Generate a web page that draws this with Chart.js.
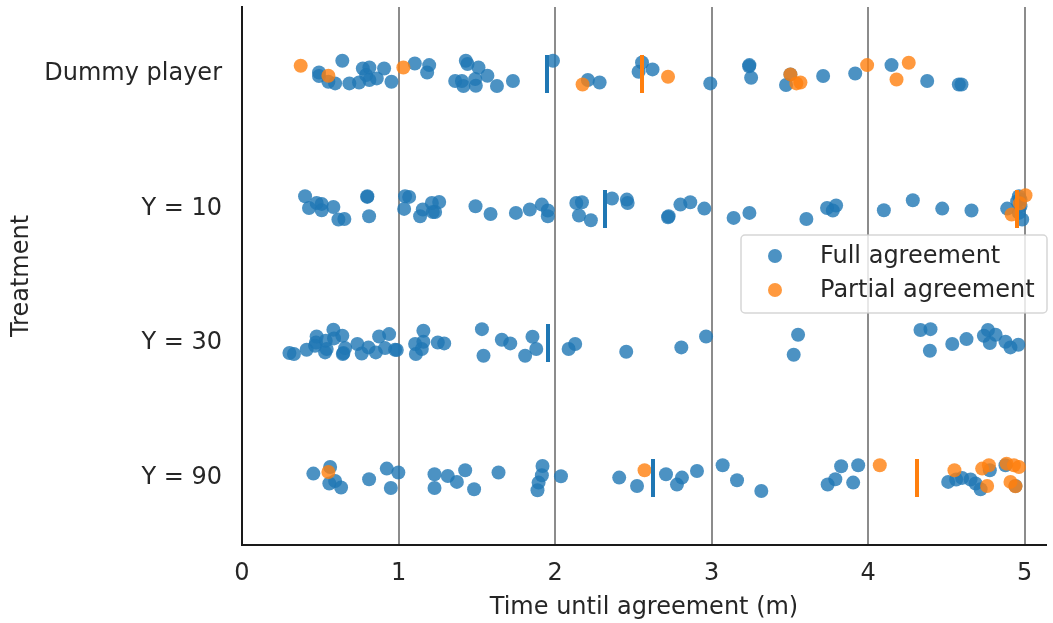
<!DOCTYPE html>
<html>
<head>
<meta charset="utf-8">
<script src="https://cdn.jsdelivr.net/npm/chart.js@4"></script>
<style>
  body { margin: 0; background: #fff; }
  canvas { display: block; }
</style>
</head>
<body>
<canvas id="chart" width="1053" height="623"></canvas>
<script>
// --- DATA ---
const treatments = ['Dummy player', 'Y = 10', 'Y = 30', 'Y = 90'];
const seriesNames = ['Full agreement', 'Partial agreement'];
const xTicks = [0, 1, 2, 3, 4, 5];

// [time (m), vertical jitter] per point
const dummyFull = [[0.641,-0.10],[0.492,-0.013],[0.492,0.013],[0.552,0.056],[0.595,0.068],[0.686,0.068],[0.748,0.061],[0.772,-0.043],[0.814,-0.05],[0.793,0.006],[0.814,0.043],[0.861,0.031],[0.908,-0.043],[0.955,0.056],[1.104,-0.08],[1.196,-0.068],[1.183,-0.013],[1.430,-0.1],[1.441,-0.076],[1.511,-0.05],[1.568,0.011],[1.490,0.036],[1.362,0.05],[1.405,0.05],[1.415,0.087],[1.494,0.085],[1.629,0.087],[1.731,0.05],[1.987,-0.1],[2.210,0.043],[2.285,0.061],[2.556,-0.087],[2.534,-0.019],[2.623,-0.036],[2.992,0.068],[3.242,-0.068],[3.24,-0.06],[3.253,0.026],[3.504,0.001],[3.476,0.08],[3.713,0.013],[3.918,-0.006],[4.150,-0.068],[4.378,0.05],[4.580,0.076],[4.597,0.076]];
const dummyPartial = [[0.375,-0.063],[0.552,0.011],[1.031,-0.05],[2.176,0.076],[2.722,0.019],[3.504,0.001],[3.542,0.068],[3.568,0.061],[3.994,-0.068],[4.260,-0.085],[4.182,0.039]];

const y10Full = [[0.403,-0.093],[0.428,-0.006],[0.477,-0.043],[0.509,-0.036],[0.509,0.011],[0.584,-0.013],[0.616,0.08],[0.654,0.076],[0.801,-0.093],[0.80,-0.088],[0.812,0.056],[1.042,-0.093],[1.068,-0.088],[1.036,0.001],[1.155,0.006],[1.138,0.056],[1.213,-0.043],[1.260,-0.05],[1.219,0.024],[1.234,0.024],[1.492,-0.019],[1.588,0.039],[1.750,0.031],[1.839,0.006],[1.916,-0.031],[1.954,0.013],[1.954,0.056],[2.136,-0.043],[2.172,-0.048],[2.153,0.05],[2.229,0.085],[2.364,-0.076],[2.459,-0.068],[2.464,-0.043],[2.726,0.056],[2.722,0.063],[2.801,-0.031],[2.864,-0.048],[2.954,-0.001],[3.141,0.068],[3.242,0.031],[3.606,0.076],[3.738,-0.006],[3.796,-0.024],[3.775,0.013],[4.101,0.011],[4.286,-0.063],[4.474,-0.001],[4.661,0.013],[4.889,-0.001],[4.964,-0.093],[4.974,-0.068],[4.953,-0.056],[4.974,-0.019],[4.964,0.031],[4.985,0.08]];
const y10Partial = [[5.006,-0.1],[4.917,0.043],[4.97,-0.04]];

const y30Full = [[0.303,0.073],[0.332,0.08],[0.413,0.048],[0.467,0.019],[0.477,-0.05],[0.473,-0.006],[0.535,-0.019],[0.541,0.043],[0.531,0.068],[0.584,-0.1],[0.588,-0.036],[0.641,-0.056],[0.659,0.036],[0.644,0.08],[0.648,0.073],[0.737,0.006],[0.765,0.076],[0.808,0.031],[0.855,0.068],[0.876,-0.05],[0.940,-0.068],[0.914,0.036],[0.978,0.048],[0.989,0.05],[1.159,-0.093],[1.159,-0.011],[1.106,0.006],[1.149,0.043],[1.111,0.08],[1.251,-0.006],[1.292,0.001],[1.533,-0.105],[1.543,0.093],[1.660,-0.026],[1.714,0.001],[1.856,-0.048],[1.880,0.043],[1.809,0.093],[2.087,0.043],[2.129,0.006],[2.455,0.063],[2.807,0.031],[2.965,-0.05],[3.553,-0.063],[3.525,0.085],[4.335,-0.098],[4.399,-0.105],[4.395,0.056],[4.538,0.006],[4.629,-0.031],[4.740,-0.056],[4.766,-0.098],[4.815,-0.063],[4.778,-0.001],[4.878,-0.011],[4.910,0.031],[4.960,0.011]];
const y30Partial = [];

const y90Full = [[0.456,-0.031],[0.563,-0.08],[0.558,0.043],[0.595,0.024],[0.633,0.073],[0.812,0.011],[0.925,-0.068],[0.951,0.076],[0.999,-0.039],[1.230,-0.026],[1.230,0.076],[1.315,-0.013],[1.373,0.031],[1.426,-0.056],[1.483,0.085],[1.639,-0.039],[1.920,-0.087],[1.916,-0.019],[1.895,0.036],[1.888,0.093],[2.038,-0.011],[2.410,-0.001],[2.524,0.061],[2.709,-0.026],[2.811,-0.001],[2.779,0.051],[2.907,-0.05],[3.071,-0.093],[3.163,0.019],[3.318,0.098],[3.742,0.05],[3.791,0.011],[3.828,-0.085],[3.937,-0.093],[3.905,0.036],[4.512,0.031],[4.563,0.013],[4.601,0.001],[4.655,0.013],[4.687,0.043],[4.719,0.085],[4.778,-0.056],[4.878,-0.093],[4.942,0.061]];
const y90Partial = [[0.552,-0.043],[2.572,-0.056],[4.075,-0.093],[4.552,-0.056],[4.761,0.061],[4.729,-0.068],[4.772,-0.093],[4.885,-0.105],[4.932,-0.093],[4.964,-0.08],[4.910,0.031],[4.942,0.063]];

// mean time per treatment
const fullMeans = [1.948, 2.321, 1.958, 2.624];
const partialMeans = [2.556, 4.953, null, 4.314];

// --- COLORS ---
const BLUE = '#1f77b4';
const ORANGE = '#ff7f0e';
const BLUE_A = 'rgba(31, 119, 180, 0.8)';
const ORANGE_A = 'rgba(255, 127, 14, 0.8)';
const TEXT = '#262626';
const FONT = { family: "'DejaVu Sans'", size: 24 };

const fullRows = [dummyFull, y10Full, y30Full, y90Full];
const partialRows = [dummyPartial, y10Partial, y30Partial, y90Partial];

const toPoints = rows => rows.flatMap((row, i) => row.map(([x, j]) => ({ x, y: i + j })));
const toMeans = means => means.map((x, i) => (x === null ? null : { x, y: i })).filter(p => p);

// vertical tick used as the marker for the means
function meanMarker(color) {
    const cv = document.createElement('canvas');
    cv.width = 4;
    cv.height = 38;
    const g = cv.getContext('2d');
    g.fillStyle = color;
    g.fillRect(0, 0, 4, 38);
    return cv;
}

// legend drawn inside the plot, like matplotlib
const legendBox = {
    id: 'legendBox',
    afterDraw(chart) {
        const c = chart.ctx;
        const x = 741, y = 235, w = 306, h = 78;
        c.save();
        c.beginPath();
        c.roundRect(x, y, w, h, 4);
        c.fillStyle = 'rgba(255,255,255,0.8)';
        c.fill();
        c.strokeStyle = 'rgba(204,204,204,0.8)';
        c.lineWidth = 1.5;
        c.stroke();
        [BLUE_A, ORANGE_A].forEach((col, i) => {
            const cy = 256 + i * 34;
            c.beginPath();
            c.arc(775, cy, 7, 0, Math.PI * 2);
            c.fillStyle = col;
            c.fill();
            c.fillStyle = TEXT;
            c.font = "24px 'DejaVu Sans'";
            c.textBaseline = 'middle';
            c.fillText(seriesNames[i], 820, cy + 1);
        });
        c.restore();
    }
};

new Chart(document.getElementById('chart'), {
    type: 'scatter',
    data: {
        datasets: [
            { label: seriesNames[0], data: toPoints(fullRows), backgroundColor: BLUE_A, borderWidth: 0, pointRadius: 7, pointHoverRadius: 0, order: 3 },
            { label: seriesNames[1], data: toPoints(partialRows), backgroundColor: ORANGE_A, borderWidth: 0, pointRadius: 7, pointHoverRadius: 0, order: 2 },
            { label: 'mean full', data: toMeans(fullMeans), pointStyle: meanMarker(BLUE), pointRadius: 1, pointHoverRadius: 0, borderWidth: 0, order: 1 },
            { label: 'mean partial', data: toMeans(partialMeans), pointStyle: meanMarker(ORANGE), pointRadius: 1, pointHoverRadius: 0, borderWidth: 0, order: 0 }
        ]
    },
    options: {
        responsive: false,
        animation: false,
        devicePixelRatio: 1,
        events: [],
        layout: { padding: { top: 5, right: 3, left: 0, bottom: 0 } },
        plugins: { legend: { display: false }, tooltip: { enabled: false } },
        scales: {
            x: {
                type: 'linear', min: 0, max: 5.137,
                afterFit: s => { s.height = 78; s.paddingLeft = 0; s.paddingRight = 0; },
                afterBuildTicks: s => { s.ticks = xTicks.map(v => ({ value: v })); },
                ticks: { font: FONT, color: TEXT, padding: 14, includeBounds: false },
                grid: { color: ctx => (ctx.tick.value === 0 ? 'rgba(0,0,0,0)' : '#8c8c8c'), lineWidth: 2, drawTicks: false },
                border: { color: '#1a1a1a', width: 2 },
                title: { display: true, text: 'Time until agreement (m)', font: FONT, color: TEXT, padding: { top: 0, bottom: 1 } }
            },
            y: {
                type: 'linear', min: -0.5, max: 3.5, reverse: true,
                afterFit: s => { s.width = 242; s.paddingTop = 0; s.paddingBottom = 0; },
                afterBuildTicks: s => { s.ticks = treatments.map((t, i) => ({ value: i })); },
                ticks: { font: FONT, color: TEXT, padding: 20, callback: v => treatments[v] },
                grid: { display: false, drawTicks: false },
                border: { color: '#1a1a1a', width: 2 },
                title: { display: true, text: 'Treatment', font: FONT, color: TEXT, padding: { top: 7, bottom: 0 } }
            }
        }
    },
    plugins: [legendBox]
});
</script>
</body>
</html>
